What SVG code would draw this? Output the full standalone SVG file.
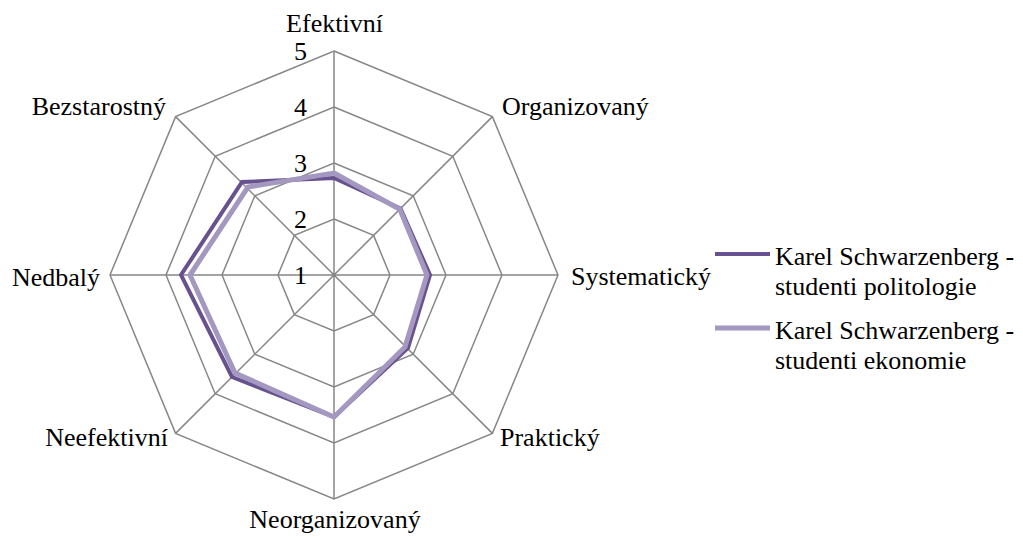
<svg xmlns="http://www.w3.org/2000/svg" width="1023" height="537" viewBox="0 0 1023 537">
  <style>
    .grid { fill: none; stroke: #878787; stroke-width: 1.5; }
    .s1 { fill: none; stroke: #67518e; stroke-width: 4; stroke-linejoin: miter; }
    .s2 { fill: none; stroke: #a497c0; stroke-width: 5; stroke-linejoin: miter; }
  </style>
  <rect width="1023" height="537" fill="#fff"/>

  <!-- radar grid: rings for values 2..5 and eight spokes, centre (334,275), 56 px per unit -->
  <g id="grid">
    <polygon class="grid" points="334,219 373.6,235.4 390,275 373.6,314.6 334,331 294.4,314.6 278,275 294.4,235.4"/>
    <polygon class="grid" points="334,163 413.2,195.8 446,275 413.2,354.2 334,387 254.8,354.2 222,275 254.8,195.8"/>
    <polygon class="grid" points="334,107 452.8,156.2 502,275 452.8,393.8 334,443 215.2,393.8 166,275 215.2,156.2"/>
    <polygon class="grid" points="334,51 492.4,116.6 558,275 492.4,433.4 334,499 175.6,433.4 110,275 175.6,116.6"/>
    <path class="grid" d="M334,275V51 M334,275L492.4,116.6 M334,275H558 M334,275L492.4,433.4 M334,275V499 M334,275L175.6,433.4 M334,275H110 M334,275L175.6,116.6"/>
  </g>

  <g font-family="DejaVu Serif, serif" font-size="26" fill="#000">
    <!-- scale values -->
    <g id="scale" text-anchor="end" font-family="Liberation Serif">
      <text x="307" y="284">1</text>
      <text x="307" y="228">2</text>
      <text x="307" y="172">3</text>
      <text x="307" y="116">4</text>
      <text x="307" y="60">5</text>
    </g>

    <!-- axis names -->
    <g id="axis-labels" font-family="Liberation Serif">
      <text x="334.5" y="32" text-anchor="middle">Efektivní</text>
      <text x="502" y="115">Organizovaný</text>
      <text x="571" y="285">Systematický</text>
      <text x="500" y="446">Praktický</text>
      <text x="335" y="528" text-anchor="middle">Neorganizovaný</text>
      <text x="168" y="446" text-anchor="end">Neefektivní</text>
      <text x="100" y="286" text-anchor="end">Nedbalý</text>
      <text x="166" y="115" text-anchor="end">Bezstarostný</text>
    </g>

    <!-- legend -->
    <g id="legend-politologie" font-family="Liberation Serif">
      <line class="s1" x1="715" y1="254" x2="770" y2="254"/>
      <text x="775" y="265">Karel Schwarzenberg -</text>
      <text x="775" y="295">studenti politologie</text>
    </g>
    <g id="legend-ekonomie" font-family="Liberation Serif">
      <line class="s2" x1="715" y1="328" x2="770" y2="328"/>
      <text x="775" y="339">Karel Schwarzenberg -</text>
      <text x="775" y="369">studenti ekonomie</text>
    </g>
  </g>

  <!-- data series -->
  <g id="series">
    <polygon id="politologie" class="s1" points="334,178 400.5,208.5 430,275 408,348 334,417 232,377 181,275 242,182"/>
    <polygon id="ekonomie" class="s2" points="334,173 399.8,209.2 427,275 405,347 334,417 235,373 190,275 248,187"/>
  </g>
</svg>
